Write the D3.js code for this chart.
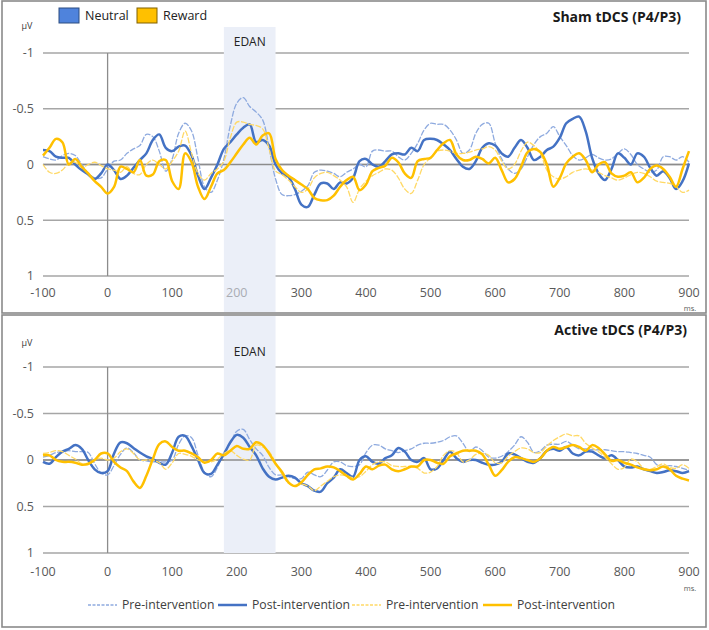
<!DOCTYPE html>
<html>
<head>
<meta charset="utf-8">
<script src="https://cdn.jsdelivr.net/npm/d3@7"></script>
<style>
body { margin: 0; background: #fff; }
text { font-family: "Open Sans", sans-serif; }
</style>
</head>
<body>
<div id="chart"></div>
<script>
// time samples (ms), one value every 10 ms
var times = d3.range(-100, 901, 10);
var xTicks = [-100, 0, 100, 200, 300, 400, 500, 600, 700, 800, 900];
var yTicks = [-1, -0.5, 0, 0.5, 1];
var edan = [180, 260];

// Sham tDCS (values in µV, axis is drawn negative-up)
var shamNeutralPre = [
    -0.07,-0.05,-0.04,-0.08,-0.10,-0.08,0.00,0.08,0.12,0.12,
    0.04,-0.03,-0.04,-0.10,-0.14,-0.17,-0.27,-0.25,-0.12,0.06,
    -0.05,-0.28,-0.37,-0.30,-0.05,0.20,0.25,0.14,-0.05,-0.35,
    -0.55,-0.60,-0.52,-0.47,-0.40,-0.15,0.13,0.27,0.28,0.27,
    0.24,0.19,0.07,0.05,0.06,0.08,0.11,0.07,0.04,0.00,
    0.02,-0.12,-0.13,-0.12,-0.12,-0.07,-0.04,-0.10,-0.19,-0.31,
    -0.37,-0.36,-0.36,-0.31,-0.22,-0.10,-0.13,-0.28,-0.36,-0.37,
    -0.19,-0.05,0.04,0.08,0.04,-0.07,-0.18,-0.25,-0.28,-0.34,
    -0.25,-0.17,-0.08,-0.04,-0.06,-0.09,-0.06,-0.04,-0.05,-0.10,
    -0.14,-0.09,0.00,0.04,0.07,0.05,-0.07,-0.07,-0.04,-0.07,
    -0.02];
var shamNeutralPost = [
    -0.13,-0.12,-0.07,-0.06,-0.06,0.00,0.05,0.09,0.13,0.08,
    0.00,0.05,0.13,0.10,0.03,-0.04,-0.10,-0.22,-0.27,-0.15,
    -0.12,-0.16,-0.17,-0.08,0.10,0.22,0.12,0.00,-0.14,-0.20,
    -0.27,-0.33,-0.36,-0.20,-0.22,-0.17,0.00,0.08,0.11,0.22,
    0.36,0.38,0.27,0.17,0.17,0.22,0.16,0.17,0.12,-0.03,
    -0.05,0.00,0.02,-0.03,-0.09,-0.10,-0.09,-0.15,-0.12,-0.22,
    -0.23,-0.22,-0.18,-0.13,-0.05,0.02,0.04,-0.03,-0.15,-0.19,
    -0.17,-0.10,-0.07,-0.15,-0.22,-0.15,-0.04,-0.07,-0.13,-0.16,
    -0.24,-0.37,-0.41,-0.43,-0.30,-0.06,0.08,0.14,0.04,-0.10,
    -0.06,0.00,-0.10,-0.07,0.03,0.10,0.06,0.12,0.22,0.15,
    -0.01];
var shamRewardPre = [
    0.00,0.07,0.08,0.05,-0.01,-0.02,0.03,0.00,-0.02,0.01,
    0.04,0.05,0.07,0.02,0.08,0.09,0.00,-0.04,0.00,0.04,
    -0.03,-0.12,-0.30,-0.10,0.08,0.14,0.08,0.04,-0.03,-0.24,
    -0.38,-0.38,-0.36,-0.35,-0.32,-0.14,0.06,0.09,0.14,0.20,
    0.25,0.22,0.12,0.08,0.07,0.10,0.14,0.20,0.34,0.22,
    0.15,0.10,0.07,0.04,0.05,0.12,0.22,0.26,0.14,0.00,
    -0.06,-0.12,-0.13,-0.12,-0.10,-0.10,-0.11,-0.13,-0.14,-0.16,
    -0.13,-0.03,0.04,0.00,-0.12,-0.20,-0.17,-0.10,0.05,0.11,
    0.13,0.11,0.07,0.05,0.04,0.05,0.07,0.10,0.12,0.14,
    0.12,0.09,0.07,0.08,0.11,0.15,0.16,0.17,0.20,0.25,
    0.23];
var shamRewardPost = [
    -0.08,-0.15,-0.23,-0.20,0.00,-0.05,0.02,0.08,0.15,0.20,
    0.26,0.20,0.02,0.04,0.07,-0.04,0.10,0.09,-0.03,-0.04,
    0.15,0.22,-0.10,-0.02,0.20,0.31,0.20,0.08,0.05,-0.02,
    -0.10,-0.18,-0.24,-0.18,-0.26,-0.28,-0.05,0.05,0.10,0.14,
    0.18,0.22,0.30,0.32,0.32,0.28,0.20,0.14,0.11,0.23,
    0.18,0.06,0.03,0.01,-0.06,-0.02,0.08,0.12,-0.03,-0.05,
    -0.06,-0.13,-0.19,-0.22,-0.09,-0.04,-0.04,-0.07,-0.05,-0.01,
    -0.06,0.05,0.16,0.13,0.02,-0.11,-0.14,-0.11,0.00,0.20,
    0.12,-0.01,-0.07,-0.10,-0.04,0.07,0.00,-0.02,0.08,0.11,
    0.10,0.07,0.16,0.12,0.04,0.01,0.04,0.11,0.20,0.04,
    -0.12];

// Active tDCS
var activeNeutralPre = [
    -0.03,-0.05,-0.08,-0.09,-0.10,-0.09,-0.09,-0.08,0.04,0.14,
    0.16,0.06,-0.06,-0.13,-0.08,0.00,0.01,0.02,0.02,0.02,
    0.00,-0.17,-0.26,-0.24,-0.05,0.13,0.18,0.08,-0.08,-0.18,
    -0.31,-0.33,-0.22,-0.12,-0.05,0.08,0.16,0.16,0.18,0.20,
    0.20,0.13,0.16,0.18,0.11,0.02,0.02,0.06,0.07,0.05,
    -0.08,-0.16,-0.16,-0.12,-0.10,-0.08,-0.10,-0.12,-0.16,-0.18,
    -0.18,-0.19,-0.21,-0.25,-0.26,-0.18,-0.09,-0.14,-0.10,-0.03,
    -0.02,-0.04,-0.09,-0.16,-0.25,-0.19,-0.08,-0.10,-0.16,-0.17,
    -0.17,-0.20,-0.16,-0.12,-0.12,-0.11,-0.11,-0.11,-0.10,-0.09,
    -0.09,-0.08,-0.07,-0.05,-0.03,0.05,0.07,0.06,0.07,0.09,
    0.11];
var activeNeutralPost = [
    0.02,0.04,-0.03,-0.09,-0.12,-0.16,-0.12,0.00,0.10,0.14,
    0.12,-0.07,-0.19,-0.18,-0.13,-0.08,-0.04,-0.01,0.03,0.05,
    -0.08,-0.25,-0.26,-0.15,0.00,0.14,0.15,0.05,-0.06,-0.19,
    -0.27,-0.24,-0.14,-0.05,0.09,0.18,0.21,0.19,0.17,0.19,
    0.25,0.28,0.33,0.34,0.25,0.19,0.10,0.14,0.18,0.00,
    -0.04,0.02,0.04,-0.02,-0.05,-0.13,-0.09,0.00,0.02,-0.02,
    0.10,0.09,0.00,-0.09,-0.02,0.02,0.00,0.00,0.03,0.05,
    0.05,0.02,-0.07,-0.06,-0.02,0.02,0.03,-0.02,-0.10,-0.12,
    -0.10,-0.14,-0.07,-0.05,-0.09,-0.09,-0.05,-0.02,-0.05,0.00,
    0.07,0.08,0.07,0.10,0.12,0.14,0.13,0.11,0.12,0.14,
    0.12];
var activeRewardPre = [
    -0.07,-0.08,-0.10,-0.09,-0.05,-0.01,0.04,0.05,0.00,-0.02,
    0.00,-0.02,-0.09,-0.12,-0.07,0.00,0.00,0.00,0.03,0.10,
    0.03,-0.07,-0.06,-0.04,0.00,0.02,0.02,-0.01,-0.07,-0.10,
    -0.05,-0.01,0.00,-0.16,-0.14,-0.09,0.03,0.15,0.25,0.28,
    0.26,0.28,0.33,0.28,0.23,0.18,0.16,0.17,0.19,0.18,
    0.12,0.05,0.02,0.02,0.06,0.07,0.07,0.07,0.09,0.14,
    0.13,0.07,-0.05,-0.10,-0.08,0.02,0.00,-0.06,-0.07,-0.05,
    0.03,0.03,-0.04,-0.09,-0.13,-0.12,-0.08,-0.08,-0.15,-0.21,
    -0.25,-0.28,-0.26,-0.26,-0.18,-0.13,-0.09,-0.03,0.04,0.10,
    0.08,-0.01,0.02,0.09,0.10,0.07,0.04,0.08,0.09,0.05,
    0.09];
var activeRewardPost = [
    -0.05,-0.05,0.00,0.02,0.02,0.03,0.05,0.04,0.00,-0.07,
    -0.07,0.02,0.08,0.12,0.23,0.30,0.17,-0.01,-0.17,-0.20,
    -0.14,-0.10,-0.10,-0.07,-0.03,0.03,0.00,-0.07,-0.05,-0.10,
    -0.15,-0.12,-0.12,-0.19,-0.16,-0.07,0.04,0.13,0.24,0.28,
    0.24,0.16,0.10,0.09,0.07,0.08,0.12,0.17,0.21,0.15,
    0.07,0.10,0.06,0.05,0.10,0.12,0.10,0.07,0.07,0.00,
    0.00,0.03,0.04,-0.04,-0.07,-0.10,-0.10,-0.10,-0.06,0.05,
    0.17,0.11,0.02,-0.03,-0.02,0.00,0.02,-0.02,-0.10,-0.14,
    -0.12,-0.14,-0.16,-0.14,-0.10,-0.16,-0.13,-0.06,0.01,0.00,
    0.03,0.05,0.08,0.10,0.11,0.10,0.07,0.10,0.17,0.20,
    0.22];

var seriesStyle = [
    {name: "Pre-intervention", color: "#8eaadf", width: 1.3, dash: "6,1.5"},
    {name: "Post-intervention", color: "#4472c4", width: 2.5, dash: null},
    {name: "Pre-intervention", color: "#ffd966", width: 1.3, dash: "6,1.5"},
    {name: "Post-intervention", color: "#ffc000", width: 2.5, dash: null}
];

var panels = [
    {title: "Sham tDCS (P4/P3)", titleX: 681, frameTop: 1, frameBottom: 313, yTop: 53, yBottom: 276,
     bandTop: 27, bandBottom: 312, unitY: 26, edanY: 42, titleY: 17, tickY: 293, msY: 308,
     dimLabel: true,
     series: [shamNeutralPre, shamNeutralPost, shamRewardPre, shamRewardPost]},
    {title: "Active tDCS (P4/P3)", titleX: 687, frameTop: 315, frameBottom: 627, yTop: 367, yBottom: 553,
     bandTop: 316, bandBottom: 553, unitY: 343, edanY: 352, titleY: 330, tickY: 572, msY: 588,
     dimLabel: false,
     series: [activeNeutralPre, activeNeutralPost, activeRewardPre, activeRewardPost]}
];

var width = 709, height = 630;
var svg = d3.select("#chart").append("svg")
    .attr("width", width)
    .attr("height", height);

var x = d3.scaleLinear().domain([-100, 900]).range([43, 689]);

panels.forEach(function(p) {
    var y = d3.scaleLinear().domain([-1, 1]).range([p.yTop, p.yBottom]);
    var g = svg.append("g");

    g.append("rect")
        .attr("x", 2).attr("y", p.frameTop)
        .attr("width", 704).attr("height", p.frameBottom - p.frameTop)
        .attr("fill", "none")
        .attr("stroke", "#8a8a8a")
        .attr("stroke-width", 1.6);

    // grid lines
    g.selectAll(".grid")
        .data(yTicks)
        .join("line")
        .attr("x1", x(-100)).attr("x2", x(900))
        .attr("y1", d => y(d)).attr("y2", d => y(d))
        .attr("stroke", "#a6a6a6")
        .attr("stroke-width", 1.3);

    // tick labels
    g.selectAll(".ylab")
        .data(yTicks)
        .join("text")
        .attr("x", 34).attr("y", d => y(d))
        .attr("dy", "0.35em")
        .attr("text-anchor", "end")
        .attr("font-size", 12.5)
        .attr("fill", "#595959")
        .text(d => d);

    // EDAN window
    g.append("rect")
        .attr("x", x(edan[0])).attr("width", x(edan[1]) - x(edan[0]))
        .attr("y", p.bandTop).attr("height", p.bandBottom - p.bandTop)
        .attr("fill", "#ebeff8");

    g.selectAll(".xlab")
        .data(xTicks)
        .join("text")
        .attr("x", d => x(d)).attr("y", p.tickY)
        .attr("dy", "0.35em")
        .attr("text-anchor", "middle")
        .attr("font-size", 12.5)
        .attr("fill", d => (p.dimLabel && d == 200) ? "#a9acb3" : "#595959")
        .text(d => d);

    // zero line and stimulus onset
    g.append("line")
        .attr("x1", x(-100)).attr("x2", x(900))
        .attr("y1", y(0)).attr("y2", y(0))
        .attr("stroke", "#8c8c8c").attr("stroke-width", 1.3);
    g.append("line")
        .attr("x1", x(0)).attr("x2", x(0))
        .attr("y1", y(-1)).attr("y2", y(1))
        .attr("stroke", "#8c8c8c").attr("stroke-width", 1.3);

    g.append("text")
        .attr("x", 27).attr("y", p.unitY)
        .attr("dy", "0.35em")
        .attr("text-anchor", "middle")
        .attr("font-size", 9)
        .attr("fill", "#404040")
        .text("µV");
    g.append("text")
        .attr("x", 690).attr("y", p.msY)
        .attr("dy", "0.35em")
        .attr("text-anchor", "middle")
        .attr("font-size", 7.5)
        .attr("fill", "#595959")
        .text("ms.");
    g.append("text")
        .attr("x", (x(edan[0]) + x(edan[1])) / 2).attr("y", p.edanY)
        .attr("dy", "0.35em")
        .attr("text-anchor", "middle")
        .attr("font-family", "Liberation Sans, Arial, sans-serif")
        .attr("font-size", 12)
        .attr("fill", "#222")
        .text("EDAN");
    g.append("text")
        .attr("x", p.titleX).attr("y", p.titleY)
        .attr("dy", "0.35em")
        .attr("text-anchor", "end")
        .attr("font-size", 14)
        .attr("font-weight", "bold")
        .attr("fill", "#1a1a1a")
        .text(p.title);

    var line = d3.line()
        .x((d, i) => x(times[i]))
        .y(d => y(d))
        .curve(d3.curveCatmullRom.alpha(0.5));

    p.series.forEach(function(values, k) {
        var s = seriesStyle[k];
        g.append("path")
            .datum(values)
            .attr("d", line)
            .attr("fill", "none")
            .attr("stroke", s.color)
            .attr("stroke-width", s.width)
            .attr("stroke-dasharray", s.dash)
            .attr("stroke-linejoin", "round");
    });
});

// top legend: conditions
var condLegend = [
    {name: "Neutral", fill: "#4f83dc", stroke: "#2d4d80", x: 59},
    {name: "Reward", fill: "#ffc000", stroke: "#806000", x: 137}
];
var cl = svg.selectAll(".cond")
    .data(condLegend)
    .join("g");
cl.append("rect")
    .attr("x", d => d.x).attr("y", 8)
    .attr("width", 20).attr("height", 15)
    .attr("fill", d => d.fill)
    .attr("stroke", d => d.stroke)
    .attr("stroke-width", 1);
cl.append("text")
    .attr("x", d => d.x + 26).attr("y", 16)
    .attr("dy", "0.35em")
    .attr("font-family", "Liberation Sans, Arial, sans-serif")
    .attr("font-size", 12.5)
    .attr("fill", "#222")
    .text(d => d.name);

// bottom legend: intervention
var legX = [88, 218, 352, 483];
var ll = svg.selectAll(".leg")
    .data(seriesStyle)
    .join("g")
    .attr("transform", (d, i) => "translate(" + legX[i] + ",605)");
ll.append("line")
    .attr("x1", 0).attr("x2", 29)
    .attr("stroke", d => d.color)
    .attr("stroke-width", d => d.width)
    .attr("stroke-dasharray", d => d.dash ? "3,1.5" : null);
ll.append("text")
    .attr("x", 34).attr("dy", "0.35em")
    .attr("font-size", 12.2)
    .attr("fill", "#404040")
    .text(d => d.name);
</script>
</body>
</html>
